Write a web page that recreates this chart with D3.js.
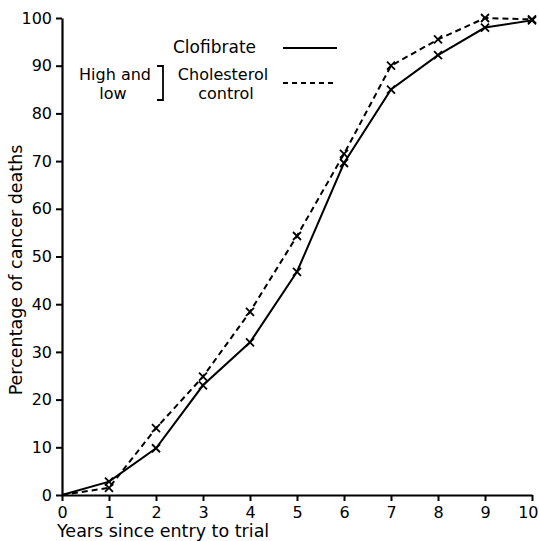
<!DOCTYPE html>
<html>
<head>
<meta charset="utf-8">
<script src="https://cdn.jsdelivr.net/npm/d3@7"></script>
<style>
  body { margin: 0; background: #fff; }
  text { font-family: "DejaVu Sans", sans-serif; fill: #000; }
</style>
</head>
<body>
<div id="chart"></div>
<script>
//years since entry, and cumulative % of cancer deaths for each group
var years = [0, 1, 2, 3, 4, 5, 6, 7, 8, 9, 10];
var clofibrate = [0, 2.8, 9.8, 23, 32, 46.8, 69.6, 85, 92.2, 98, 99.5];
var control = [0, 1.5, 14, 24.8, 38.4, 54.3, 71.5, 90, 95.5, 100, 99.7];
var yTicks = [0, 10, 20, 30, 40, 50, 60, 70, 80, 90, 100];

var width = 539;
var height = 541;

var svg = d3.select("#chart").append("svg")
  .attr("width", width)
  .attr("height", height);

var x = d3.scaleLinear().domain([0, 10]).range([62, 532]);
var y = d3.scaleLinear().domain([0, 100]).range([495, 18]);

//axes
var xAxis = svg.append("g")
  .attr("transform", "translate(0," + y(0) + ")")
  .call(d3.axisBottom(x).tickValues(years).tickSize(6).tickSizeOuter(0).tickPadding(4));
var yAxis = svg.append("g")
  .attr("transform", "translate(" + x(0) + ",0)")
  .call(d3.axisLeft(y).tickValues(yTicks).tickSize(6).tickSizeOuter(0).tickPadding(4));

[xAxis, yAxis].forEach(function(ax)
{
  ax.select(".domain").attr("stroke", "#000").attr("stroke-width", 2.2);
  ax.selectAll(".tick line").attr("stroke", "#000").attr("stroke-width", 2);
  ax.selectAll(".tick text")
    .style("font-family", "DejaVu Sans, sans-serif")
    .style("font-size", "16px")
    .attr("fill", "#000");
});
xAxis.selectAll(".tick text").attr("dy", "0.8em");
//last label sits against the right edge, as in the original
xAxis.selectAll(".tick text")
  .filter(function(d) { return d === 10; })
  .attr("text-anchor", "end")
  .attr("x", width - x(10) - 1);

//axis titles
svg.append("text")
  .attr("x", 57)
  .attr("y", 537)
  .style("font-size", "17.5px")
  .text("Years since entry to trial");

svg.append("text")
  .attr("transform", "translate(22,270) rotate(-90)")
  .attr("text-anchor", "middle")
  .style("font-size", "17.5px")
  .text("Percentage of cancer deaths");

//lines
var line = d3.line()
  .x(function(d) { return x(d[0]); })
  .y(function(d) { return y(d[1]); });

function drawSeries(values, dash)
{
  var pts = years.map(function(yr, i) { return [yr, values[i]]; });
  svg.append("path")
    .datum(pts)
    .attr("d", line)
    .attr("fill", "none")
    .attr("stroke", "#000")
    .attr("stroke-width", 2)
    .attr("stroke-dasharray", dash);

  //small crosses at each year (skip the origin)
  svg.append("g").selectAll("path")
    .data(pts.slice(1))
    .enter().append("path")
    .attr("d", function(d)
    {
      var cx = x(d[0]), cy = y(d[1]), s = 4;
      return "M" + (cx - s) + "," + (cy - s) + "L" + (cx + s) + "," + (cy + s) +
             "M" + (cx + s) + "," + (cy - s) + "L" + (cx - s) + "," + (cy + s);
    })
    .attr("stroke", "#000")
    .attr("stroke-width", 1.8);
}

drawSeries(clofibrate, null);
drawSeries(control, "6,4");

//legend
svg.append("text").attr("x", 173).attr("y", 53).style("font-size", "17px").text("Clofibrate");
svg.append("line")
  .attr("x1", 283).attr("x2", 337).attr("y1", 48).attr("y2", 48)
  .attr("stroke", "#000").attr("stroke-width", 2);

svg.append("text").attr("x", 223).attr("y", 80).attr("text-anchor", "middle")
  .style("font-size", "16px").text("Cholesterol");
svg.append("text").attr("x", 226).attr("y", 99).attr("text-anchor", "middle")
  .style("font-size", "16px").text("control");
svg.append("line")
  .attr("x1", 283).attr("x2", 335).attr("y1", 83).attr("y2", 83)
  .attr("stroke", "#000").attr("stroke-width", 2)
  .attr("stroke-dasharray", "5,4");

svg.append("text").attr("x", 115).attr("y", 80).attr("text-anchor", "middle")
  .style("font-size", "16px").text("High and");
svg.append("text").attr("x", 113).attr("y", 99).attr("text-anchor", "middle")
  .style("font-size", "16px").text("low");
svg.append("path")
  .attr("d", "M157,66 L163,66 L163,100 L157,100")
  .attr("fill", "none")
  .attr("stroke", "#000")
  .attr("stroke-width", 1.8);
</script>
</body>
</html>
